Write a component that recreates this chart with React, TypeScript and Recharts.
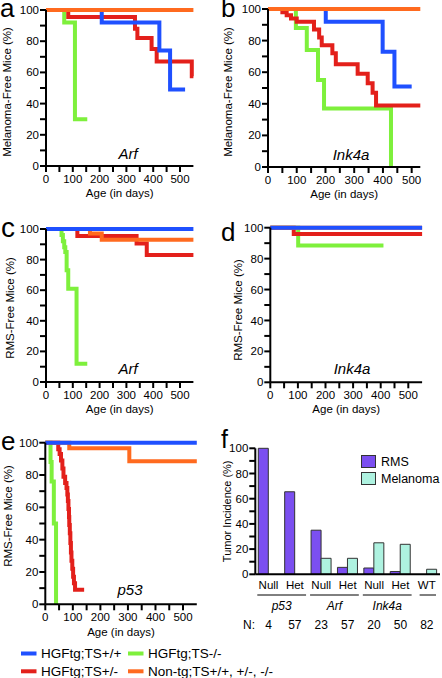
import { LineChart, Line, XAxis, YAxis, BarChart, Bar, Legend } from 'recharts';

const FONT = '"Liberation Sans", Arial, Helvetica, sans-serif';

const BLUE = '#1f50ff';
const RED = '#e3201b';
const GREEN = '#7ef03c';
const ORANGE = '#ff6a1f';
const PURPLE = '#7b4ff0';
const AQUA = '#aef2e0';

type Pt = { x: number; y: number };

// a: melanoma-free, Arf
const arfMelBlue: Pt[] = [{ x: 0, y: 100 }, { x: 208, y: 92 }, { x: 423, y: 74 }, { x: 463, y: 49 }, { x: 519, y: 49 }];
const arfMelRed: Pt[] = [{ x: 0, y: 100 }, { x: 83, y: 95.5 }, { x: 332, y: 88 }, { x: 341, y: 82 }, { x: 394, y: 75 }, { x: 413, y: 67 }, { x: 544, y: 57.5 }, { x: 550, y: 57.5 }];
const arfMelGreen: Pt[] = [{ x: 0, y: 100 }, { x: 68, y: 92 }, { x: 108, y: 30 }, { x: 154, y: 30 }];
const arfMelOrange: Pt[] = [{ x: 0, y: 100 }, { x: 550, y: 100 }];

// b: melanoma-free, Ink4a
const inkMelBlue: Pt[] = [{ x: 0, y: 100 }, { x: 201, y: 92 }, { x: 399, y: 73 }, { x: 440, y: 51 }, { x: 500, y: 51 }];
const inkMelRed: Pt[] = [{ x: 0, y: 100 }, { x: 50, y: 98 }, { x: 65, y: 96 }, { x: 80, y: 94 }, { x: 100, y: 92 }, { x: 160, y: 87 }, { x: 178, y: 82 }, { x: 187, y: 77 }, { x: 224, y: 72 }, { x: 236, y: 65 }, { x: 312, y: 59 }, { x: 347, y: 53 }, { x: 364, y: 47 }, { x: 376, y: 39 }, { x: 530, y: 39 }];
const inkMelGreen: Pt[] = [{ x: 0, y: 100 }, { x: 97, y: 88 }, { x: 135, y: 74 }, { x: 174, y: 55 }, { x: 195, y: 37 }, { x: 428, y: 0 }];
const inkMelOrange: Pt[] = [{ x: 0, y: 100 }, { x: 530, y: 100 }];

// c: RMS-free, Arf
const arfRmsBlue: Pt[] = [{ x: 0, y: 100 }, { x: 550, y: 100 }];
const arfRmsRed: Pt[] = [{ x: 0, y: 100 }, { x: 117, y: 95.5 }, { x: 338, y: 90.5 }, { x: 376, y: 83 }, { x: 550, y: 83 }];
const arfRmsGreen: Pt[] = [{ x: 0, y: 100 }, { x: 58, y: 96 }, { x: 63, y: 92 }, { x: 68, y: 88 }, { x: 72, y: 85 }, { x: 77, y: 73 }, { x: 83, y: 61 }, { x: 114, y: 12 }, { x: 154, y: 12 }];
const arfRmsOrange: Pt[] = [{ x: 0, y: 100 }, { x: 164, y: 97 }, { x: 208, y: 93 }, { x: 550, y: 93 }];

// d: RMS-free, Ink4a
const inkRmsBlue: Pt[] = [{ x: 0, y: 100 }, { x: 550, y: 100 }];
const inkRmsRed: Pt[] = [{ x: 0, y: 100 }, { x: 85, y: 96 }, { x: 550, y: 96 }];
const inkRmsGreen: Pt[] = [{ x: 0, y: 100 }, { x: 101, y: 88.5 }, { x: 410, y: 88.5 }];
const inkRmsOrange: Pt[] = [{ x: 0, y: 100 }, { x: 550, y: 100 }];

// e: RMS-free, p53
const p53RmsBlue: Pt[] = [{ x: 0, y: 100 }, { x: 550, y: 100 }];
const p53RmsRed: Pt[] = [{ x: 0, y: 100 }, { x: 47, y: 96 }, { x: 52, y: 93 }, { x: 57, y: 89 }, { x: 62, y: 84 }, { x: 66, y: 79 }, { x: 72, y: 75 }, { x: 77, y: 72 }, { x: 80, y: 68 }, { x: 82, y: 64 }, { x: 84, y: 59 }, { x: 86, y: 54 }, { x: 87, y: 49 }, { x: 89, y: 44 }, { x: 91, y: 38 }, { x: 93, y: 32 }, { x: 95, y: 27 }, { x: 98, y: 22 }, { x: 101, y: 17 }, { x: 104, y: 13 }, { x: 108, y: 9 }, { x: 141, y: 9 }];
const p53RmsGreen: Pt[] = [{ x: 0, y: 100 }, { x: 19, y: 88 }, { x: 23, y: 76 }, { x: 31, y: 50 }, { x: 39, y: 0 }];
const p53RmsOrange: Pt[] = [{ x: 0, y: 100 }, { x: 87, y: 96.5 }, { x: 305, y: 88.5 }, { x: 550, y: 88.5 }];

// f: tumor incidence
const categories = ['Null', 'Het', 'Null', 'Het', 'Null', 'Het', 'WT'];
const groups = ['p53', 'Arf', 'Ink4a', ''];
const rmsIncidence = [100, 65.5, 35, 5.5, 5, 2.2, 0];
const melanomaIncidence = [0, 0, 12.7, 12.7, 25, 23.8, 4];
const nMice = [4, 57, 23, 57, 20, 50, 82];
const barLegendOrder = ['RMS', 'Melanoma'];

const dayTicks = [0, 50, 100, 150, 200, 250, 300, 350, 400, 450, 500];
const pctTicks = [0, 10, 20, 30, 40, 50, 60, 70, 80, 90, 100];

const legendNames = ['HGFtg;TS+/+', 'HGFtg;TS-/-', 'HGFtg;TS+/-', 'Non-tg;TS+/+, +/-, -/-'];
const legendColors = [BLUE, GREEN, RED, ORANGE];

type Box = { x: number; y: number; w: number; h: number };
type Plot = { L: number; T: number; R: number; B: number };
type Series = { color: string; data: Pt[] };

const TICK_FS = 11.5;
const LABEL_FS = 11.5;

const pctFmt = (v: number) => (v % 20 === 0 ? String(v) : '');
const dayFmt = (v: number) => (v % 100 === 0 ? String(v) : '');

function SurvivalPanel(props: {
  box: Box;
  plot: Plot;
  maxDay: number;
  yLabel: string;
  yLabelX: number;
  yLabelY: number;
  xLabelY: number;
  lines: Series[];
}) {
  const { box, plot, maxDay, yLabel, yLabelX, yLabelY, xLabelY, lines } = props;
  const yAxisW = plot.L - box.x;
  const xAxisH = box.y + box.h - plot.B;
  const margin = { top: plot.T - box.y, right: box.x + box.w - plot.R, left: 0, bottom: 0 };
  return (
    <div style={{ position: 'absolute', left: box.x, top: box.y }}>
      <LineChart width={box.w} height={box.h} margin={margin}>
        <XAxis
          type="number"
          dataKey="x"
          domain={[0, maxDay]}
          ticks={dayTicks}
          interval={0}
          tickFormatter={dayFmt}
          height={xAxisH}
          stroke="#000"
          strokeWidth={2}
          tick={{ fill: '#000', fontSize: TICK_FS }}
          tickSize={6}
          tickMargin={3}
          label={{
            value: 'Age (in days)',
            position: 'insideBottom',
            offset: xAxisH - (xLabelY + 4.2 - plot.B),
            fill: '#000',
            fontSize: TICK_FS,
          }}
        />
        <YAxis
          type="number"
          domain={[0, 100]}
          ticks={pctTicks}
          interval={0}
          tickFormatter={pctFmt}
          width={yAxisW}
          stroke="#000"
          strokeWidth={2}
          tick={{ fill: '#000', fontSize: TICK_FS }}
          tickSize={6}
          tickMargin={1}
          label={{
            value: yLabel,
            angle: -90,
            position: 'insideLeft',
            offset: yLabelX - box.x,
            dy: yLabelY - (plot.T + plot.B) / 2,
            fill: '#000',
            fontSize: LABEL_FS,
            style: { textAnchor: 'middle' },
          }}
        />
        {lines.map((s, i) => (
          <Line
            key={`line-${i}`}
            data={s.data}
            dataKey="y"
            type="stepAfter"
            stroke={s.color}
            strokeWidth={4}
            dot={false}
            activeDot={false}
            isAnimationActive={false}
          />
        ))}
      </LineChart>
    </div>
  );
}

const renderBarLegend = (props: any) => {
  const items = [...(props.payload || [])].sort(
    (a: any, b: any) => barLegendOrder.indexOf(a.value) - barLegendOrder.indexOf(b.value)
  );
  return (
    <div style={{ fontFamily: FONT, fontSize: 12.5, color: '#000' }}>
      {items.map((p: any, i: number) => (
        <div key={`lg-${i}`} style={{ display: 'flex', alignItems: 'center', height: 17 }}>
          <span
            style={{
              display: 'inline-block',
              width: 13,
              height: 11,
              background: p.color,
              border: '1px solid #333',
              marginRight: 5,
            }}
          />
          <span>{p.value}</span>
        </div>
      ))}
    </div>
  );
};

export default function App() {
  const barData = categories.map((c, i) => ({ id: i, name: c, rms: rmsIncidence[i], mel: melanomaIncidence[i] }));
  const fBox: Box = { x: 221, y: 420, w: 221, h: 175 };
  const fPlot: Plot = { L: 255.3, T: 448.3, R: 440, B: 574.3 };
  const band = (fPlot.R - fPlot.L) / categories.length;
  const bandCenter = (i: number) => fPlot.L + band * (i + 0.5);

  return (
    <div style={{ position: 'absolute', left: 0, top: 0, width: 442, height: 678, background: '#fff', fontFamily: FONT }}>
      <SurvivalPanel
        box={{ x: 0, y: 0, w: 221, h: 210 }}
        plot={{ L: 46, T: 10, R: 193.4, B: 166 }}
        maxDay={550}
        yLabel="Melanoma-Free Mice (%)"
        yLabelX={7}
        yLabelY={92}
        xLabelY={192.7}
        lines={[
          { color: GREEN, data: arfMelGreen },
          { color: RED, data: arfMelRed },
          { color: BLUE, data: arfMelBlue },
          { color: ORANGE, data: arfMelOrange },
        ]}
      />
      <SurvivalPanel
        box={{ x: 221, y: 0, w: 221, h: 210 }}
        plot={{ L: 268, T: 9, R: 420.3, B: 167 }}
        maxDay={530}
        yLabel="Melanoma-Free Mice (%)"
        yLabelX={227.7}
        yLabelY={92}
        xLabelY={193.3}
        lines={[
          { color: GREEN, data: inkMelGreen },
          { color: RED, data: inkMelRed },
          { color: BLUE, data: inkMelBlue },
          { color: ORANGE, data: inkMelOrange },
        ]}
      />
      <SurvivalPanel
        box={{ x: 0, y: 210, w: 221, h: 210 }}
        plot={{ L: 46, T: 229, R: 193.4, B: 382 }}
        maxDay={550}
        yLabel="RMS-Free Mice (%)"
        yLabelX={10}
        yLabelY={308}
        xLabelY={408.3}
        lines={[
          { color: GREEN, data: arfRmsGreen },
          { color: RED, data: arfRmsRed },
          { color: ORANGE, data: arfRmsOrange },
          { color: BLUE, data: arfRmsBlue },
        ]}
      />
      <SurvivalPanel
        box={{ x: 221, y: 210, w: 221, h: 210 }}
        plot={{ L: 270.3, T: 227.7, R: 422.1, B: 382.3 }}
        maxDay={550}
        yLabel="RMS-Free Mice (%)"
        yLabelX={237.7}
        yLabelY={310}
        xLabelY={408.3}
        lines={[
          { color: GREEN, data: inkRmsGreen },
          { color: RED, data: inkRmsRed },
          { color: ORANGE, data: inkRmsOrange },
          { color: BLUE, data: inkRmsBlue },
        ]}
      />
      <SurvivalPanel
        box={{ x: 0, y: 420, w: 221, h: 220 }}
        plot={{ L: 45.3, T: 442.7, R: 196.8, B: 604.3 }}
        maxDay={550}
        yLabel="RMS-Free Mice (%)"
        yLabelX={8.3}
        yLabelY={516}
        xLabelY={631.7}
        lines={[
          { color: GREEN, data: p53RmsGreen },
          { color: RED, data: p53RmsRed },
          { color: ORANGE, data: p53RmsOrange },
          { color: BLUE, data: p53RmsBlue },
        ]}
      />

      <div style={{ position: 'absolute', left: fBox.x, top: fBox.y }}>
        <BarChart
          width={fBox.w}
          height={fBox.h}
          data={barData}
          margin={{ top: fPlot.T - fBox.y, right: fBox.x + fBox.w - fPlot.R, left: 0, bottom: 0 }}
          barGap={0}
          barSize={10}
        >
          <XAxis
            dataKey="id"
            type="category"
            tickFormatter={(i: number) => categories[i]}
            interval={0}
            tickLine={false}
            tickSize={0}
            tickMargin={7}
            height={fBox.y + fBox.h - fPlot.B}
            stroke="#000"
            strokeWidth={2}
            tick={{ fill: '#000', fontSize: TICK_FS }}
          />
          <YAxis
            type="number"
            domain={[0, 100]}
            ticks={pctTicks}
            interval={0}
            tickFormatter={pctFmt}
            width={fPlot.L - fBox.x}
            stroke="#000"
            strokeWidth={2}
            tick={{ fill: '#000', fontSize: TICK_FS }}
            tickSize={6}
            tickMargin={1}
            label={{
              value: 'Tumor Incidence (%)',
              angle: -90,
              position: 'insideLeft',
              offset: 6.5,
              fill: '#000',
              fontSize: 11,
              style: { textAnchor: 'middle' },
            }}
          />
          <Legend
            layout="vertical"
            align="center"
            verticalAlign="middle"
            content={renderBarLegend}
            wrapperStyle={{ left: 140, top: 33, width: 80, height: 36 }}
          />
          <Bar dataKey="rms" name="RMS" fill={PURPLE} stroke="#333" strokeWidth={1} isAnimationActive={false} />
          <Bar dataKey="mel" name="Melanoma" fill={AQUA} stroke="#333" strokeWidth={1} isAnimationActive={false} />
        </BarChart>
      </div>

      <svg
        width={442}
        height={678}
        style={{ position: 'absolute', left: 0, top: 0, pointerEvents: 'none', fontFamily: FONT }}
      >
        <text x={0} y={17} fontSize={26}>a</text>
        <text x={221} y={17} fontSize={26}>b</text>
        <text x={1} y={237} fontSize={28}>c</text>
        <text x={221} y={241} fontSize={26}>d</text>
        <text x={1} y={450} fontSize={26}>e</text>
        <text x={221} y={448} fontSize={25}>f</text>

        <text x={128} y={153} fontSize={15} fontStyle="italic" textAnchor="middle" dominantBaseline="central">Arf</text>
        <text x={351} y={154} fontSize={15} fontStyle="italic" textAnchor="middle" dominantBaseline="central">Ink4a</text>
        <text x={128} y={368} fontSize={15} fontStyle="italic" textAnchor="middle" dominantBaseline="central">Arf</text>
        <text x={352} y={368} fontSize={15} fontStyle="italic" textAnchor="middle" dominantBaseline="central">Ink4a</text>
        <text x={130} y={589} fontSize={15} fontStyle="italic" textAnchor="middle" dominantBaseline="central">p53</text>

        {groups.map((g, gi) => {
          const first = gi * 2;
          const last = Math.min(first + 1, categories.length - 1);
          const x1 = fPlot.L + band * first + (gi === 3 ? 6 : 2);
          const x2 = fPlot.L + band * (last + 1) - (gi === 3 ? 4 : 2);
          return (
            <g key={`grp-${gi}`}>
              <line x1={x1} x2={x2} y1={595} y2={595} stroke="#000" strokeWidth={1} />
              {g ? (
                <text x={(x1 + x2) / 2} y={606} fontSize={12} fontStyle="italic" textAnchor="middle" dominantBaseline="central">
                  {g}
                </text>
              ) : null}
            </g>
          );
        })}

        <text x={249} y={625} fontSize={12} textAnchor="middle" dominantBaseline="central">N:</text>
        {nMice.map((n, i) => (
          <text key={`n-${i}`} x={bandCenter(i)} y={625} fontSize={12} textAnchor="middle" dominantBaseline="central">
            {n}
          </text>
        ))}

        {legendNames.map((name, i) => {
          const col = i % 2;
          const row = Math.floor(i / 2);
          const sx = col === 0 ? 21 : 128;
          const cy = row === 0 ? 653.5 : 671.3;
          return (
            <g key={`leg-${i}`}>
              <rect x={sx} y={cy - 2} width={15.5} height={4} fill={legendColors[i]} />
              <text x={sx + 20} y={cy} fontSize={13.5} dominantBaseline="central">
                {name}
              </text>
            </g>
          );
        })}
      </svg>
    </div>
  );
}
